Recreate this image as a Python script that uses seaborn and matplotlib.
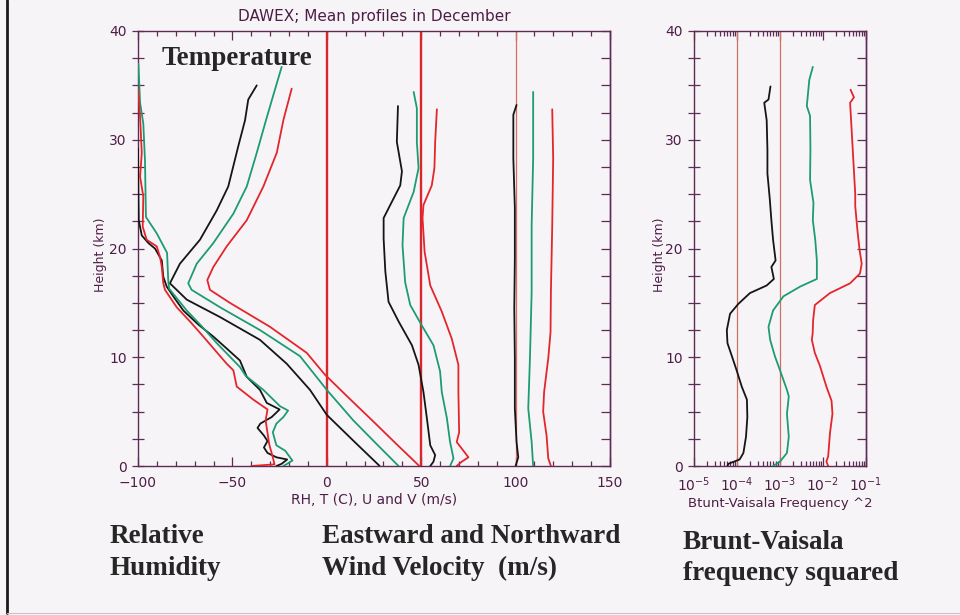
import numpy as np
import matplotlib
matplotlib.use("Agg")
import matplotlib.pyplot as plt
from matplotlib.lines import Line2D
from matplotlib.ticker import MultipleLocator, LogLocator, NullFormatter
import seaborn as sns

# ---------------------------------------------------------------------------
# Mean December profiles, three stations (black, green, red).
# Each profile is a list of (height km, plotted value), top of profile first.
# Left panel values are read on the shared "RH, T (C), U and V" axis.
# ---------------------------------------------------------------------------
RH_BLACK = [(29.2, -100.0), (25.0, -99.8), (22.6, -99.6), (21.2, -98.0), (20.5, -94.5),
            (20.0, -91.0), (18.9, -87.4), (17.4, -86.6), (16.5, -84.8), (15.4, -80.5),
            (14.3, -76.0), (13.0, -68.0), (11.9, -60.1), (10.8, -53.0), (9.7, -46.0),
            (8.2, -42.4), (7.0, -35.4), (5.8, -31.8), (5.2, -25.0), (4.5, -29.2),
            (3.9, -35.2), (3.5, -36.7), (2.8, -33.3), (2.3, -31.4), (1.7, -33.3),
            (1.2, -31.4), (0.8, -26.7), (0.6, -21.0), (0.2, -23.9), (0.0, -26.7)]
RH_GREEN = [(37.0, -99.8), (33.4, -98.9), (31.5, -97.2), (28.1, -96.3), (22.9, -95.8),
            (21.4, -90.1), (19.6, -84.6), (17.1, -84.0), (16.3, -83.5), (14.3, -74.2),
            (12.8, -66.0), (11.3, -58.3), (9.1, -46.0), (8.3, -43.0), (7.0, -33.6),
            (5.5, -24.8), (5.1, -20.5), (4.5, -23.0), (3.9, -26.7), (3.1, -28.6),
            (1.9, -26.7), (1.4, -22.0), (0.5, -18.2), (0.2, -21.0), (0.0, -23.0)]
RH_RED = [(34.7, -100.0), (32.1, -98.9), (28.8, -98.0), (26.6, -98.9), (24.8, -97.2),
          (22.0, -97.5), (20.8, -95.4), (20.2, -90.1), (19.2, -88.3), (18.3, -87.4),
          (16.8, -86.6), (16.2, -85.7), (14.6, -79.5), (13.2, -72.0), (11.9, -65.4),
          (9.4, -53.0), (8.8, -49.5), (7.3, -47.7), (6.1, -38.9), (5.2, -31.4),
          (4.2, -32.4), (2.0, -30.5), (0.8, -28.6), (0.15, -27.7), (0.0, -40.0)]

T_BLACK = [(35.0, -37.1), (33.7, -41.6), (31.8, -43.3), (29.4, -46.9), (25.7, -52.2),
           (23.5, -58.3), (20.8, -67.2), (18.6, -77.8), (16.8, -83.1), (15.3, -74.2),
           (13.7, -56.6), (11.6, -35.4), (9.4, -21.2), (7.0, -8.9), (4.7, 0.0),
           (2.0, 16.0), (0.0, 28.0)]
T_GREEN = [(36.7, -23.9), (34.0, -28.5), (31.8, -32.2), (28.8, -37.1), (25.7, -42.4),
           (23.2, -49.5), (20.5, -60.1), (18.6, -68.9), (16.8, -73.4), (16.2, -71.6),
           (14.6, -56.6), (12.5, -35.4), (10.1, -14.2), (7.0, 0.0), (4.2, 14.0),
           (2.0, 26.5), (0.0, 38.0)]
T_RED = [(34.7, -18.6), (32.4, -22.1), (31.8, -23.0), (28.8, -26.5), (25.7, -33.6),
         (22.6, -42.4), (20.2, -53.0), (18.3, -60.1), (17.1, -63.3), (16.2, -61.9),
         (15.0, -51.3), (12.8, -30.1), (10.4, -10.6), (8.4, -1.0), (6.2, 12.0),
         (4.2, 24.0), (2.0, 37.0), (0.0, 49.0)]

U_BLACK = [(33.1, 37.7), (29.8, 37.1), (27.1, 39.8), (25.8, 38.9), (24.0, 33.6),
           (22.8, 30.1), (20.9, 30.1), (17.9, 31.0), (15.1, 32.7), (13.3, 38.0),
           (11.1, 45.1), (9.3, 48.6), (6.8, 51.2), (4.4, 53.0), (1.9, 54.8),
           (1.0, 57.4), (0.4, 56.5), (0.0, 54.8)]
U_GREEN = [(34.4, 46.0), (32.9, 47.7), (29.8, 47.7), (27.4, 48.6), (25.2, 46.0),
           (22.8, 40.7), (20.3, 40.1), (16.9, 41.5), (14.8, 44.2), (12.9, 50.4),
           (11.1, 56.5), (8.7, 60.0), (6.8, 60.9), (4.4, 63.6), (2.2, 65.3),
           (0.7, 67.1), (0.0, 65.3)]
U_RED = [(32.8, 58.3), (29.8, 57.4), (27.4, 57.0), (25.8, 55.6), (24.0, 51.2),
         (22.8, 50.7), (19.7, 51.8), (16.6, 54.8), (14.2, 60.9), (11.7, 66.2),
         (9.3, 69.7), (6.8, 69.7), (3.1, 70.1), (2.2, 68.8), (1.6, 71.5),
         (0.8, 75.0), (0.4, 71.5), (0.0, 68.8)]

V_BLACK = [(33.2, 100.5), (32.3, 98.8), (28.3, 98.8), (23.7, 99.6), (19.1, 99.6),
           (14.5, 99.3), (9.9, 99.6), (5.3, 99.6), (2.2, 100.5), (0.8, 101.4), (0.0, 100.0)]
V_GREEN = [(34.4, 109.3), (28.3, 109.3), (22.1, 108.5), (16.0, 108.5), (9.9, 107.6),
           (5.3, 106.7), (2.2, 108.5), (0.0, 109.3)]
V_RED = [(32.8, 119.4), (28.3, 119.9), (22.1, 119.4), (16.0, 118.7), (12.3, 118.5),
         (9.9, 117.3), (6.8, 115.1), (5.0, 114.6), (2.8, 116.4), (0.7, 117.3), (0.0, 118.7)]

# Brunt-Vaisala frequency squared (plotted values, s^-2)
N2_BLACK = [(34.9, 6.0e-4), (33.7, 5.4e-4), (33.4, 4.3e-4), (31.8, 4.9e-4), (29.1, 5.1e-4),
            (26.9, 5.1e-4), (24.5, 5.8e-4), (22.6, 6.3e-4), (20.8, 6.9e-4), (18.9, 7.9e-4),
            (18.3, 6.3e-4), (17.2, 7.2e-4), (16.6, 4.9e-4), (15.9, 2.0e-4), (14.9, 1.07e-4),
            (14.0, 6.9e-5), (12.5, 5.8e-5), (11.3, 6.0e-5), (10.1, 7.6e-5), (8.8, 9.8e-5),
            (7.3, 1.29e-4), (6.1, 1.7e-4), (4.5, 1.74e-4), (2.7, 1.62e-4), (1.2, 1.41e-4),
            (0.6, 1.15e-4), (0.2, 6.3e-5), (0.0, 6.0e-5)]
N2_GREEN = [(36.7, 5.8e-3), (35.5, 4.8e-3), (33.1, 4.2e-3), (32.2, 5.0e-3), (29.1, 5.1e-3),
            (26.3, 5.0e-3), (24.2, 6.0e-3), (22.6, 5.8e-3), (20.8, 6.6e-3), (18.9, 7.2e-3),
            (17.2, 7.2e-3), (16.5, 2.95e-3), (15.6, 1.2e-3), (14.3, 6.9e-4), (12.8, 5.4e-4),
            (11.6, 5.9e-4), (10.1, 7.6e-4), (8.8, 1.0e-3), (7.0, 1.45e-3), (6.4, 1.6e-3),
            (4.8, 1.45e-3), (2.7, 1.6e-3), (1.2, 1.45e-3), (0.4, 1.0e-3), (0.0, 6.9e-4)]
N2_RED = [(34.6, 0.0437), (33.9, 0.0525), (33.4, 0.0427), (30.6, 0.0468), (27.8, 0.0513),
          (25.0, 0.0562), (23.9, 0.0562), (21.7, 0.0631), (19.9, 0.0708), (18.6, 0.0794),
          (17.7, 0.0724), (16.8, 0.0427), (15.9, 0.0145), (14.8, 0.00646), (13.4, 0.00589),
          (12.2, 0.00575), (11.6, 0.0055), (10.4, 0.00646), (9.2, 0.0085), (7.3, 0.012),
          (6.0, 0.0158), (4.8, 0.0166), (3.0, 0.0145), (0.9, 0.0132), (0.4, 0.012),
          (0.0, 0.0132)]

# Reference verticals
LEFT_REFS = [0, 50]
LEFT_THIN_REF = [100]
N2_REFS = [1e-4, 1e-3]

# ---------------------------------------------------------------------------
sns.set_theme(style="ticks")
plt.rcParams["font.family"] = ["DejaVu Sans"]
plt.rcParams["axes.unicode_minus"] = True

PAPER = "#f7f4f8"
FRAME = "#5c2c52"
INK = "#4d1e45"
STATION = {"black": "#151515", "green": "#1c9c70", "red": "#e2262c"}
SERIF = dict(family="Liberation Serif", weight="bold", size=19.5, color="#262626")

W, H = 960, 615
fig = plt.figure(figsize=(W / 100, H / 100), dpi=100, facecolor=PAPER)


def box(left, top, right, bottom):
    return [left / W, 1 - bottom / H, (right - left) / W, (bottom - top) / H]


ax = fig.add_axes(box(138, 31, 610, 466))
bx = fig.add_axes(box(694, 31, 866, 466))
bx.set_xscale("log")


def profile(axis, pts, color):
    z, v = zip(*pts)
    sns.lineplot(x=list(v), y=list(z), sort=False, estimator=None, color=color,
                 linewidth=1.3, ax=axis, legend=False, zorder=3)


for x in LEFT_REFS:
    ax.axvline(x, color="#d9262c", lw=1.7, zorder=2)
for x in LEFT_THIN_REF:
    ax.axvline(x, color="#de6b5e", lw=0.9, zorder=2)
for x in N2_REFS:
    bx.axvline(x, color="#cc7262", lw=0.9, zorder=2)

for name, series in (("black", [RH_BLACK, T_BLACK, U_BLACK, V_BLACK]),
                     ("green", [RH_GREEN, T_GREEN, U_GREEN, V_GREEN]),
                     ("red", [RH_RED, T_RED, U_RED, V_RED])):
    for pts in series:
        profile(ax, pts, STATION[name])

for name, pts in (("black", N2_BLACK), ("green", N2_GREEN), ("red", N2_RED)):
    profile(bx, pts, STATION[name])

ax.set_xlim(-100, 150)
bx.set_xlim(1e-5, 1e-1)
ax.xaxis.set_major_locator(MultipleLocator(50))
ax.xaxis.set_minor_locator(MultipleLocator(10))
bx.xaxis.set_major_locator(LogLocator(base=10, numticks=10))
bx.xaxis.set_minor_locator(LogLocator(base=10, subs=np.arange(2, 10), numticks=20))
bx.xaxis.set_minor_formatter(NullFormatter())

for a in (ax, bx):
    a.set_facecolor(PAPER)
    a.set_ylim(0, 40)
    for s in a.spines.values():
        s.set_visible(True)
        s.set_color(FRAME)
        s.set_linewidth(1.0)
    a.yaxis.set_major_locator(MultipleLocator(10))
    a.yaxis.set_minor_locator(MultipleLocator(2.5))
    a.tick_params(axis="y", which="both", left=True, right=False, direction="inout",
                  length=8, width=0.9, color=FRAME, labelcolor=INK, labelsize=10, pad=4)
    a.tick_params(axis="x", which="major", bottom=True, top=True, direction="in",
                  length=6.5, width=0.9, color=FRAME, labelcolor=INK, labelsize=10, pad=7)
    a.tick_params(axis="x", which="minor", bottom=True, top=True, direction="in",
                  length=3.3, width=0.9, color=FRAME)
    sec = a.secondary_yaxis("right")
    sec.yaxis.set_major_locator(MultipleLocator(10))
    sec.yaxis.set_minor_locator(MultipleLocator(2.5))
    sec.tick_params(which="both", direction="in", length=6.5, width=0.9, color=FRAME,
                    labelright=False)
    sec.spines["right"].set_color(FRAME)
    sec.spines["right"].set_linewidth(1.0)
    a.set_ylabel("Height (km)", fontsize=9, color=INK)

ax.yaxis.set_label_coords(-0.065, 0.485)
bx.yaxis.set_label_coords(-0.165, 0.485)
ax.set_xlabel("RH, T (C), U and V (m/s)", fontsize=10, color=INK, labelpad=2)
bx.set_xlabel("Btunt-Vaisala Frequency ^2", fontsize=9.5, color=INK, labelpad=2)
ax.set_title("DAWEX; Mean profiles in December", fontsize=11, color=INK, pad=7)

# Panel captions
fig.text(162 / W, 1 - 65 / H, "Temperature", va="baseline", **SERIF)
fig.text(110 / W, 1 - 543 / H, "Relative", va="baseline", **SERIF)
fig.text(110 / W, 1 - 575 / H, "Humidity", va="baseline", **SERIF)
fig.text(322 / W, 1 - 543 / H, "Eastward and Northward", va="baseline", **SERIF)
fig.text(322 / W, 1 - 575 / H, "Wind Velocity  (m/s)", va="baseline", **SERIF)
fig.text(683 / W, 1 - 549 / H, "Brunt-Vaisala", va="baseline", **SERIF)
fig.text(683 / W, 1 - 580 / H, "frequency squared", va="baseline", **SERIF)

# Page frame
fig.add_artist(Line2D([6.5 / W, 6.5 / W], [1 - 613 / H, 1], color="#1a1a1a", lw=2.0,
                      transform=fig.transFigure))
fig.add_artist(Line2D([6.5 / W, 1], [1 - 613 / H, 1 - 613 / H], color="#c8c4c9", lw=0.8,
                      transform=fig.transFigure))

fig.savefig("out.png", dpi=100, facecolor=PAPER)
